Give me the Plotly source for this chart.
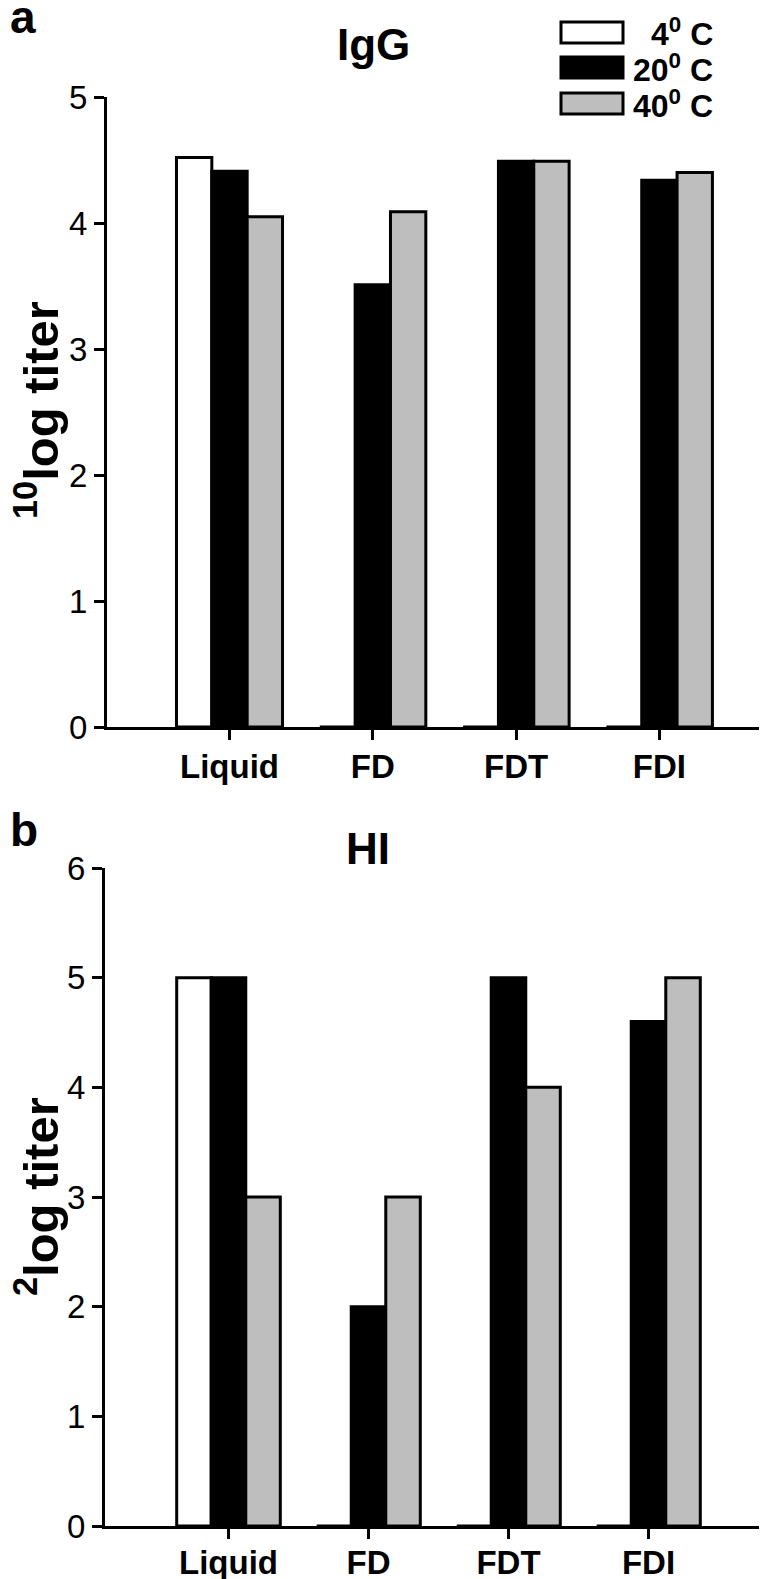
import plotly.graph_objects as go

W, H = 767, 1579
OFF_X, OFF_Y = 4, 8  # page offset compensation

categories = ["Liquid", "FD", "FDT", "FDI"]
series_names = ["4<sup>0</sup> C", "20<sup>0</sup> C", "40<sup>0</sup> C"]
igg_4c = [4.52, 0, 0, 0]
igg_20c = [4.41, 3.51, 4.49, 4.34]
igg_40c = [4.05, 4.09, 4.49, 4.40]
hi_4c = [5, 0, 0, 0]
hi_20c = [5, 2, 5, 4.6]
hi_40c = [3, 3, 4, 5]
igg_ticks = [0, 1, 2, 3, 4, 5]
hi_ticks = [0, 1, 2, 3, 4, 5, 6]

fills = ["#ffffff", "#000000", "#bebebe"]
FONT = "Liberation Sans, Arial, sans-serif"


def px_x(x):
    return min(1.0, max(0.0, (x - OFF_X) / W))


def px_y(y):
    return 1 - (y - OFF_Y) / H


def cat_range(axis_left, axis_right, first_tick, step):
    return [-(first_tick - axis_left) / step, 3 + (axis_right - (first_tick + 3 * step)) / step]


fig = go.Figure()
for vals, color, name in zip([igg_4c, igg_20c, igg_40c], fills, series_names):
    fig.add_trace(go.Bar(x=categories, y=vals, name=name, xaxis="x", yaxis="y",
                         marker=dict(color=color, line=dict(color="black", width=3)),
                         showlegend=False))
for vals, color, name in zip([hi_4c, hi_20c, hi_40c], fills, series_names):
    fig.add_trace(go.Bar(x=categories, y=vals, name=name, xaxis="x2", yaxis="y2",
                         marker=dict(color=color, line=dict(color="black", width=3)),
                         showlegend=False))

axis_common = dict(showline=True, linecolor="black", linewidth=3, ticks="outside",
                   ticklen=10, tickwidth=3, tickcolor="black", showgrid=False,
                   zeroline=False, automargin=False)
xfont = dict(family=FONT, size=33, color="black", weight="bold")
yfont = dict(family=FONT, size=33, color="black")

fig.update_layout(
    template="none",
    width=W, height=H,
    margin=dict(l=0, r=0, t=0, b=0, pad=0),
    paper_bgcolor="white", plot_bgcolor="white",
    showlegend=False,
    barmode="group", bargap=0.26, bargroupgap=0,
    xaxis=dict(domain=[px_x(103), px_x(763)], anchor="y", type="category",
               range=cat_range(103, 763, 225.5, 143.3), tickfont=xfont,
               ticklabelstandoff=-2, **axis_common),
    yaxis=dict(domain=[px_y(727), px_y(97)], anchor="x", range=[0, 5],
               tickvals=igg_ticks, tickfont=yfont, **axis_common),
    xaxis2=dict(domain=[px_x(101), px_x(769)], anchor="y2", type="category",
                range=cat_range(101, 769, 224.5, 140.0), tickfont=xfont,
                ticklabelstandoff=-5, **axis_common),
    yaxis2=dict(domain=[px_y(1526), px_y(868)], anchor="x2", range=[0, 6],
                tickvals=hi_ticks, tickfont=yfont, **axis_common),
)

ann = []
ann.append(dict(text="a", x=px_x(4), y=px_y(17), xanchor="left", yanchor="middle",
                font=dict(family=FONT, size=46, color="black", weight="bold")))
ann.append(dict(text="b", x=px_x(4), y=px_y(830), xanchor="left", yanchor="middle",
                font=dict(family=FONT, size=46, color="black", weight="bold")))
ann.append(dict(text="IgG", x=px_x(369), y=px_y(45), xanchor="center", yanchor="middle",
                font=dict(family=FONT, size=44, color="black", weight="bold")))
ann.append(dict(text="HI", x=px_x(364), y=px_y(848), xanchor="center", yanchor="middle",
                font=dict(family=FONT, size=44, color="black", weight="bold")))
ann.append(dict(text="<sup>10</sup>log titer", x=px_x(33), y=px_y(410), textangle=-90,
                xanchor="center", yanchor="middle",
                font=dict(family=FONT, size=49, color="black", weight="bold")))
ann.append(dict(text="<sup>2</sup>log titer", x=px_x(33), y=px_y(1197), textangle=-90,
                xanchor="center", yanchor="middle",
                font=dict(family=FONT, size=49, color="black", weight="bold")))

# manual legend
box_rows = [(22, 43), (57, 78), (93, 114)]
text_rows = [32, 68, 104]
shapes = []
for (y0, y1), color, ty, name in zip(box_rows, fills, text_rows, series_names):
    shapes.append(dict(type="rect", xref="paper", yref="paper",
                       x0=px_x(557), x1=px_x(619), y0=px_y(y1), y1=px_y(y0),
                       fillcolor=color, line=dict(color="black", width=3)))
    ann.append(dict(text=name, x=px_x(711), y=px_y(ty), xanchor="right", yanchor="middle",
                    font=dict(family=FONT, size=32, color="black", weight="bold")))

for a in ann:
    a.update(xref="paper", yref="paper", showarrow=False)
fig.update_layout(annotations=ann, shapes=shapes)

fig.write_html("out.html")
